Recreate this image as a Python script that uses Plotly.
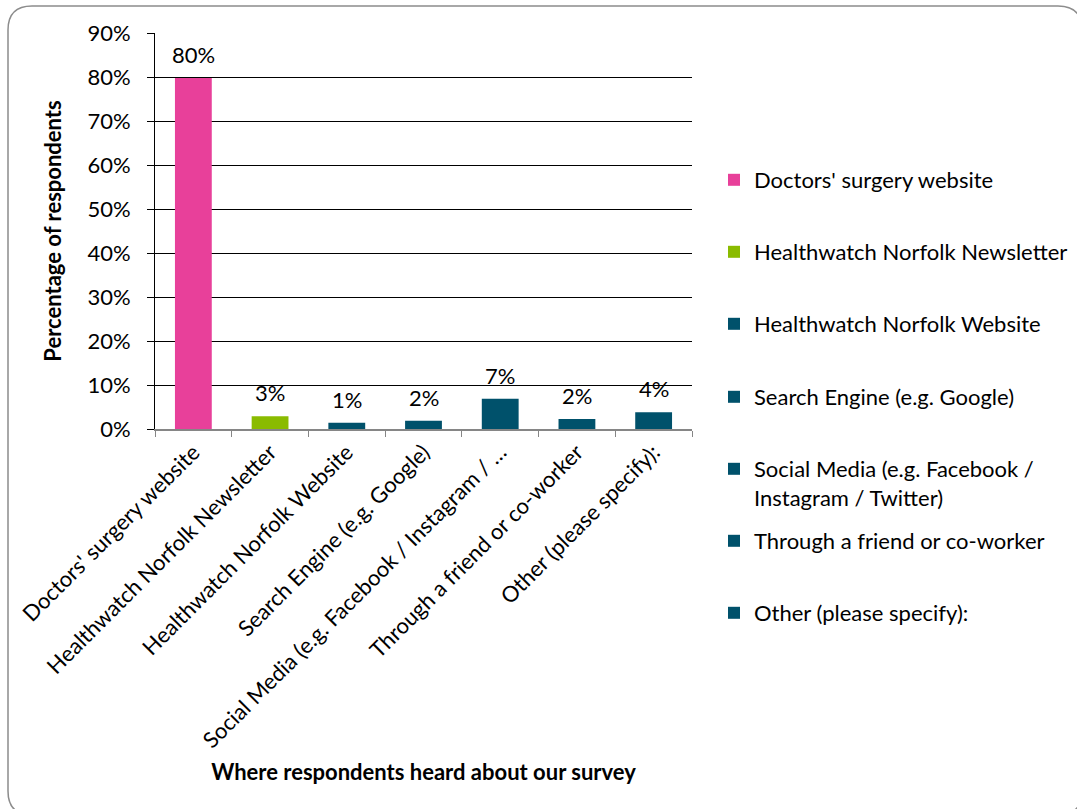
import plotly.graph_objects as go

# Survey responses: where respondents heard about the survey
categories = [
    "Doctors' surgery website",
    "Healthwatch Norfolk Newsletter",
    "Healthwatch Norfolk Website",
    "Search Engine (e.g. Google)",
    "Social Media (e.g. Facebook / Instagram / …",
    "Through a friend or co-worker",
    "Other (please specify):",
]
legend_names = [
    "Doctors' surgery website",
    "Healthwatch Norfolk Newsletter",
    "Healthwatch Norfolk Website",
    "Search Engine (e.g. Google)",
    "Social Media (e.g. Facebook /<br>Instagram / Twitter)",
    "Through a friend or co-worker",
    "Other (please specify):",
]
shares = [0.798, 0.029, 0.014, 0.019, 0.069, 0.023, 0.038]
bar_colors = ["#E8409A", "#8ABB00", "#00516B", "#00516B", "#00516B", "#00516B", "#00516B"]
y_ticks = [0, 0.1, 0.2, 0.3, 0.4, 0.5, 0.6, 0.7, 0.8, 0.9]

FONT = "Lato"
FS = 22
W, H = 1077, 809
L, R, T, B = 155, 385, 33, 380
PW, PH = W - L - R, H - T - B


def px_x(px):
    return (px - L) / PW


def px_y(py):
    return (H - B - py) / PH


fig = go.Figure()

# Legend rows (pixel centre of the first text line for each entry)
legend_rows = [180, 252, 324, 397, 469, 541, 613]

for i, (cat, name, val, col) in enumerate(zip(categories, legend_names, shares, bar_colors)):
    lg = "legend" if i == 0 else f"legend{i + 1}"
    fig.add_trace(go.Bar(
        x=[cat], y=[val], name=name, width=0.48,
        marker=dict(color=col, line=dict(width=0)),
        legend=lg, showlegend=True,
        hovertemplate="%{x}: %{y:.1%}<extra></extra>",
    ))
    fig.add_annotation(
        x=cat, y=val, xref="x", yref="y", text=f"{val:.0%}",
        showarrow=False, yanchor="bottom", yshift=8,
        font=dict(family=FONT, size=FS, color="#000000"),
    )

legend_layouts = {}
for i, row in enumerate(legend_rows):
    key = "legend" if i == 0 else f"legend{i + 1}"
    legend_layouts[key] = dict(
        x=px_x(714), xanchor="left",
        y=px_y(row - 21), yanchor="top",
        valign="top",
        bgcolor="rgba(0,0,0,0)", borderwidth=0,
        font=dict(family=FONT, size=FS, color="#000000"),
        itemwidth=30,
    )

# Rounded outer frame
r = 24
x0, y0, x1, y1 = 8, 6, 1082, 815


def pt(x, y):
    return f"{px_x(x)},{px_y(y)}"


frame_path = (
    f"M{pt(x0, y0 + r)} Q{pt(x0, y0)} {pt(x0 + r, y0)} "
    f"L{pt(x1 - r, y0)} Q{pt(x1, y0)} {pt(x1, y0 + r)} "
    f"L{pt(x1, y1 - r)} Q{pt(x1, y1)} {pt(x1 - r, y1)} "
    f"L{pt(x0 + r, y1)} Q{pt(x0, y1)} {pt(x0, y1 - r)} Z"
)
fig.add_shape(type="path", path=frame_path, xref="paper", yref="paper",
              line=dict(color="#8C8C8C", width=1.5), fillcolor="rgba(0,0,0,0)",
              layer="below")

fig.update_layout(
    width=W, height=H,
    margin=dict(l=L, r=R, t=T, b=B, autoexpand=False),
    paper_bgcolor="#FFFFFF", plot_bgcolor="#FFFFFF",
    barmode="overlay",
    font=dict(family=FONT, size=FS, color="#000000"),
    **legend_layouts,
)

fig.update_xaxes(
    type="category", categoryorder="array", categoryarray=categories,
    range=[-0.5, 6.5],
    tickangle=-45, tickson="boundaries",
    ticks="outside", ticklen=6, tickcolor="#868686", tickwidth=1,
    showline=True, linecolor="#868686", linewidth=1.5,
    showgrid=False,
    tickfont=dict(family=FONT, size=FS, color="#000000"),
    title=dict(text="<b>Where respondents heard about our survey</b>",
               font=dict(family=FONT, size=FS, color="#000000"), standoff=13),
)

fig.update_yaxes(
    range=[0, 0.9], tickvals=y_ticks, tickformat=".0%",
    ticks="outside", ticklen=7, tickcolor="#000000", tickwidth=1,
    showline=True, linecolor="#000000", linewidth=1,
    showgrid=True, gridcolor="#000000", gridwidth=1,
    zeroline=False, ticklabelstandoff=12,
    tickfont=dict(family=FONT, size=FS, color="#000000"),
    title=dict(text="<b>Percentage of respondents</b>",
               font=dict(family=FONT, size=FS, color="#000000"), standoff=19),
)

fig.write_html("out.html")
